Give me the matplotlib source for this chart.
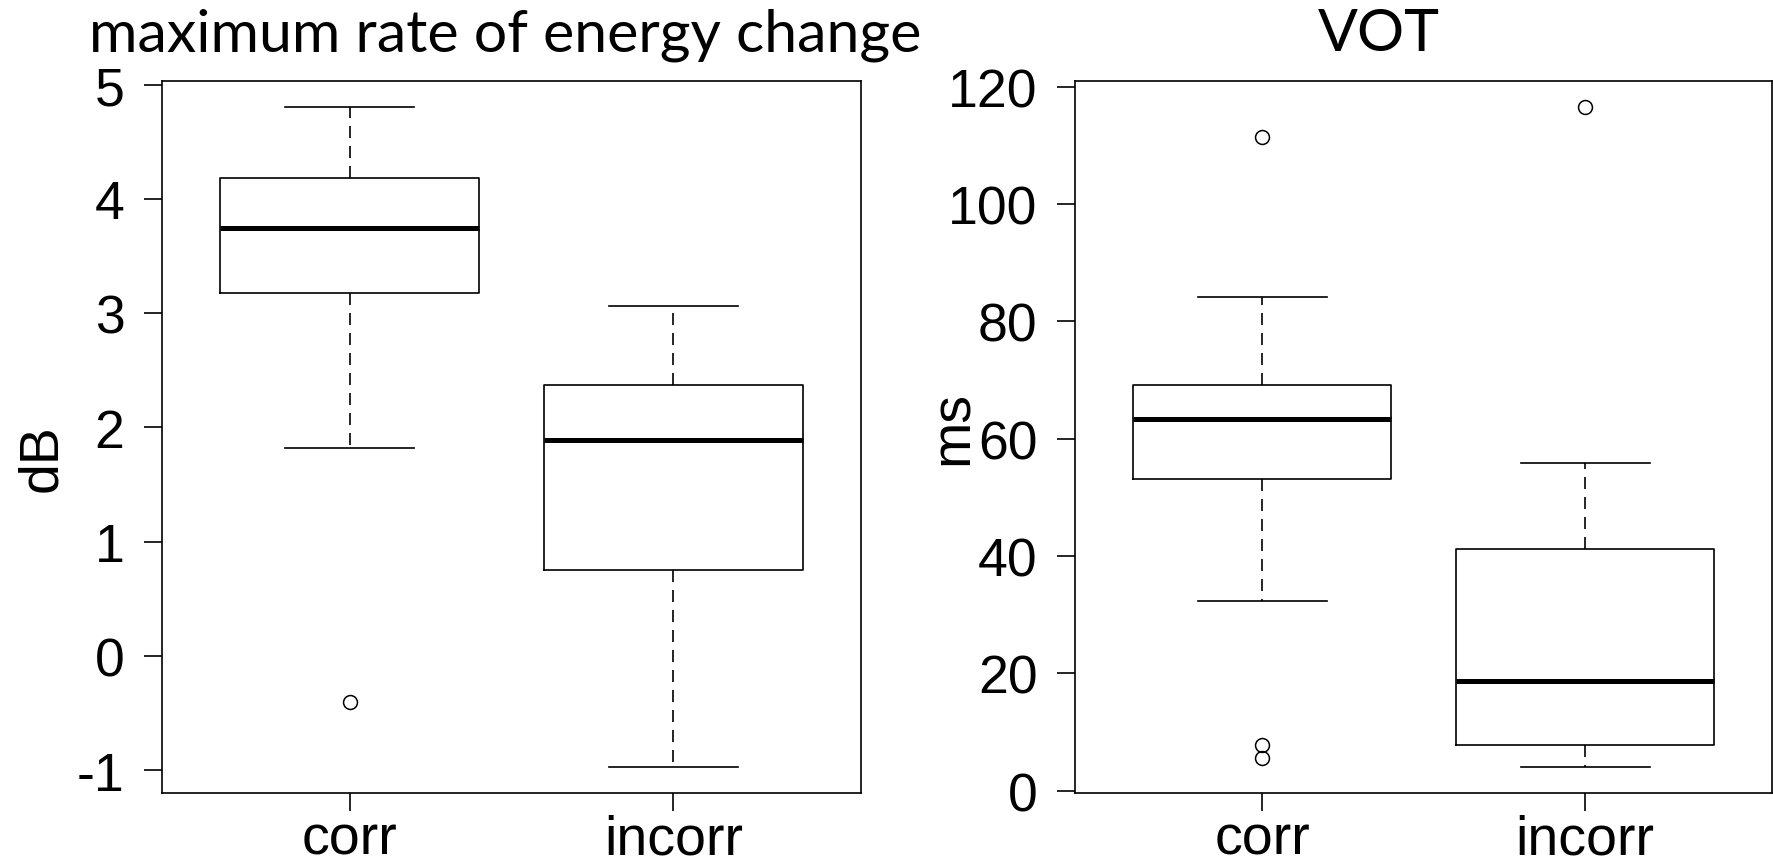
import matplotlib
matplotlib.use("Agg")
import matplotlib.pyplot as plt

# five-number summaries per group (whisker low, Q1, median, Q3, whisker high) + outliers
groups = ["corr", "incorr"]

energy_whislo = [1.82, -0.967]
energy_q1 = [3.18, 0.749]
energy_med = [3.746, 1.887]
energy_q3 = [4.18, 2.37]
energy_whishi = [4.80, 3.06]
energy_fliers = [[-0.404], []]

vot_whislo = [32.3, 4.1]
vot_q1 = [53.1, 7.8]
vot_med = [63.4, 18.7]
vot_q3 = [69.1, 41.25]
vot_whishi = [84.2, 55.9]
vot_fliers = [[111.4, 7.8, 5.5], [116.5]]

energy_ticks = [-1, 0, 1, 2, 3, 4, 5]
vot_ticks = [0, 20, 40, 60, 80, 100, 120]

W, H = 1774, 862
DPI = 100
TICK_FONT = "Liberation Sans"
TITLE_FONT = "Lato"


def make_stats(lo, q1, med, q3, hi, fliers):
    stats = []
    for i in range(len(lo)):
        stats.append(dict(whislo=lo[i], q1=q1[i], med=med[i], q3=q3[i],
                          whishi=hi[i], fliers=fliers[i]))
    return stats


def r_boxplot(ax, stats, ticks):
    ax.bxp(stats, positions=[1, 2], widths=0.8, capwidths=0.4,
           boxprops=dict(color="black", linewidth=1.2),
           whiskerprops=dict(color="black", linewidth=1.2, dashes=(7.2, 4.8)),
           capprops=dict(color="black", linewidth=1.2),
           medianprops=dict(color="black", linewidth=3.6, solid_capstyle="butt"),
           flierprops=dict(marker="o", markerfacecolor="none",
                           markeredgecolor="black", markersize=10,
                           markeredgewidth=1.1))
    # R style axis ranges: 4% padding around the data
    lows = [s["whislo"] for s in stats] + [f for s in stats for f in s["fliers"]]
    highs = [s["whishi"] for s in stats] + [f for s in stats for f in s["fliers"]]
    lo, hi = min(lows), max(highs)
    pad = 0.04 * (hi - lo)
    ax.set_ylim(lo - pad, hi + pad)
    ax.set_xlim(0.5 - 0.08, 2.5 + 0.08)
    ax.set_xticks([1, 2])
    ax.set_xticklabels(groups)
    ax.set_yticks(ticks)
    ax.set_yticklabels([str(t) for t in ticks])
    ax.tick_params(axis="both", direction="out", length=13, width=1.2,
                   colors="black")
    ax.tick_params(axis="y", pad=14, labelsize=38.5)
    ax.tick_params(axis="x", pad=2, labelsize=40)
    for lab in ax.get_xticklabels() + ax.get_yticklabels():
        lab.set_fontfamily(TICK_FONT)
    for sp in ax.spines.values():
        sp.set_linewidth(1.2)


fig = plt.figure(figsize=(W / DPI, H / DPI), dpi=DPI)

ax1 = fig.add_axes([162 / W, 1 - 794 / H, 699 / W, (794 - 82) / H])
r_boxplot(ax1, make_stats(energy_whislo, energy_q1, energy_med, energy_q3,
                          energy_whishi, energy_fliers), energy_ticks)

ax2 = fig.add_axes([1075 / W, 1 - 794 / H, 697.5 / W, (794 - 82) / H])
r_boxplot(ax2, make_stats(vot_whislo, vot_q1, vot_med, vot_q3,
                          vot_whishi, vot_fliers), vot_ticks)

# titles and unit labels sit on top of the panels
fig.text(505 / W, 1 - 51 / H, "maximum rate of energy change", ha="center",
         va="baseline", fontsize=42.5, family=TITLE_FONT)
fig.text(1379 / W, 1 - 51 / H, "VOT", ha="center", va="baseline",
         fontsize=42.5, family=TITLE_FONT)
fig.text(42 / W, 1 - 458 / H, "dB", rotation=90, ha="center", va="center",
         fontsize=40, family=TICK_FONT)
fig.text(954 / W, 1 - 428 / H, "ms", rotation=90, ha="center", va="center",
         fontsize=40, family=TICK_FONT)

fig.savefig("out.png", dpi=DPI, facecolor="white")
